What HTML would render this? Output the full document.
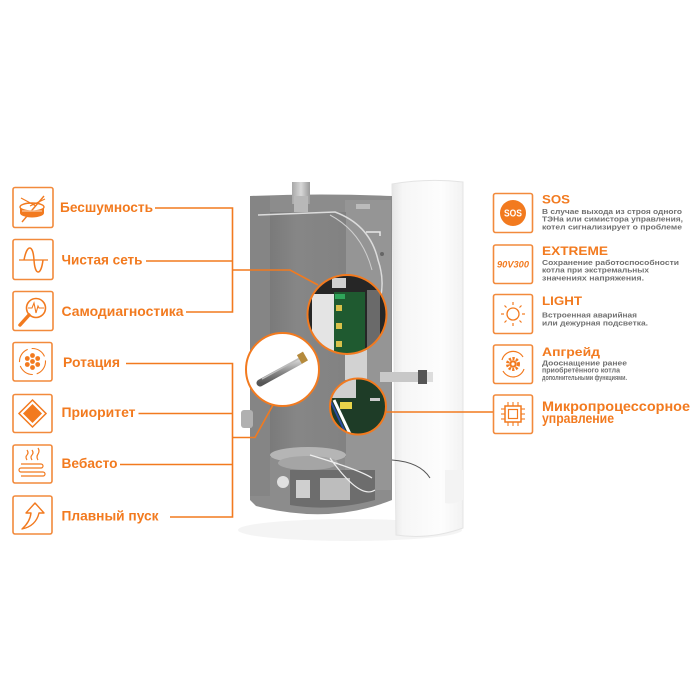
<!DOCTYPE html>
<html><head><meta charset="utf-8"><style>
html,body{margin:0;padding:0;background:#fff;}
svg{display:block;}
.lt{font-family:"Liberation Sans","DejaVu Sans",sans-serif;font-weight:bold;fill:#f27a1f;}
.ds{font-family:"Liberation Sans","DejaVu Sans",sans-serif;font-weight:bold;fill:#707070;}
</style></head><body>
<svg width="700" height="700" viewBox="0 0 700 700" xmlns="http://www.w3.org/2000/svg">
<defs>
<linearGradient id="door" x1="0" x2="1" y1="0" y2="0">
<stop offset="0" stop-color="#e6e6e6"/><stop offset="0.15" stop-color="#f6f6f6"/><stop offset="0.7" stop-color="#fdfdfd"/><stop offset="1" stop-color="#f2f2f2"/>
</linearGradient>
<linearGradient id="tank" x1="0" x2="1" y1="0" y2="0">
<stop offset="0" stop-color="#7a7a7a"/><stop offset="0.35" stop-color="#868686"/><stop offset="1" stop-color="#828282"/>
</linearGradient>
<linearGradient id="pipe" x1="0" x2="1">
<stop offset="0" stop-color="#a8a8a8"/><stop offset="0.5" stop-color="#d8d8d8"/><stop offset="1" stop-color="#9a9a9a"/>
</linearGradient>
<linearGradient id="rod" x1="0" x2="0" y1="0" y2="1">
<stop offset="0" stop-color="#d0d0d0"/><stop offset="0.5" stop-color="#8a8a8a"/><stop offset="1" stop-color="#555"/>
</linearGradient>
<clipPath id="c1"><circle cx="347" cy="314.5" r="39.5"/></clipPath>
<clipPath id="c2"><circle cx="282.5" cy="369.5" r="36.5"/></clipPath>
<clipPath id="c3"><circle cx="358" cy="406.5" r="28"/></clipPath>
</defs>

<!-- shadow -->
<ellipse cx="350" cy="530" rx="112" ry="11" fill="#f4f4f4"/>

<!-- door -->
<path d="M392,184 Q428,178 463,182 L463,528 Q430,540 396,535 Z" fill="url(#door)" stroke="#e4e4e4" stroke-width="1"/>
<path d="M445,470 L463,470 L463,500 Q452,505 445,503 Z" fill="#f3f3f3"/>

<!-- back panel -->
<path d="M250,196 Q320,193 392,196 L392,500 Q330,525 256,506 L250,500 Z" fill="#8c8c8c"/>
<rect x="250" y="196" width="20" height="300" fill="#858585"/>
<rect x="345" y="200" width="46" height="290" fill="#959595"/>
<!-- tank -->
<rect x="270" y="212" width="76" height="245" fill="url(#tank)"/>
<ellipse cx="308" cy="455" rx="38" ry="8" fill="#b5b5b5"/>
<ellipse cx="308" cy="463" rx="30" ry="7" fill="#a5a5a5"/>
<!-- bottom dark block -->
<path d="M290,470 L375,470 L375,500 Q330,512 290,505 Z" fill="#6d6d6d"/>
<rect x="320" y="478" width="30" height="22" fill="#bdbdbd"/>
<rect x="296" y="480" width="14" height="18" fill="#cfcfcf"/>
<circle cx="283" cy="482" r="6" fill="#e0e0e0"/>
<!-- left pipe -->
<rect x="241" y="410" width="12" height="18" rx="3" fill="#b0b0b0"/>
<!-- top pipe -->
<rect x="292" y="182" width="18" height="22" fill="url(#pipe)"/>
<rect x="294" y="196" width="14" height="16" fill="#b8b8b8"/>
<!-- wires -->
<path d="M258,215 L335,212 Q370,225 378,260 Q385,280 380,300" fill="none" stroke="#dcdcdc" stroke-width="1.5"/>
<path d="M330,215 Q362,232 372,270" fill="none" stroke="#cfcfcf" stroke-width="1"/>
<rect x="356" y="204" width="14" height="5" fill="#bbb"/>
<path d="M366,232 L380,232 L380,236" fill="none" stroke="#e8e8e8" stroke-width="1.5"/>
<circle cx="382" cy="254" r="2" fill="#666"/>
<!-- ribbon cable -->
<path d="M380,372 L418,372 L418,382 L380,382 Z" fill="#c8c8c8"/>
<rect x="418" y="370" width="9" height="14" fill="#555"/>
<rect x="427" y="372" width="6" height="10" fill="#ddd"/>
<path d="M392,460 Q420,462 430,478" fill="none" stroke="#555" stroke-width="1"/>
<path d="M310,455 Q360,470 372,478 M330,458 Q360,500 375,490" fill="none" stroke="#eee" stroke-width="1.2"/>
<rect x="345" y="350" width="22" height="30" fill="#d2d2d2"/>

<!-- circle 1 PCB -->
<g clip-path="url(#c1)">
<rect x="300" y="270" width="95" height="90" fill="#262626"/>
<rect x="312" y="294" width="22" height="60" fill="#e4e4e4"/>
<rect x="334" y="292" width="31" height="62" fill="#1f5a30"/>
<rect x="335" y="294" width="10" height="5" fill="#2fa55a"/>
<rect x="336" y="305" width="6" height="6" fill="#d9c14a"/>
<rect x="336" y="323" width="6" height="6" fill="#d9c14a"/>
<rect x="336" y="341" width="6" height="6" fill="#d9c14a"/>
<rect x="367" y="290" width="13" height="60" fill="#6a6a6a"/>
<rect x="332" y="278" width="14" height="10" fill="#cfcfcf"/>
</g>
<circle cx="347" cy="314.5" r="39.5" fill="none" stroke="#f27a1f" stroke-width="2"/>

<!-- circle 2 heating element -->
<circle cx="282.5" cy="369.5" r="36.5" fill="#fff"/>
<g clip-path="url(#c2)">
<line x1="260" y1="383" x2="300" y2="361" stroke="url(#rod)" stroke-width="7" stroke-linecap="round"/>
<line x1="262" y1="379" x2="300" y2="358" stroke="#bdbdbd" stroke-width="1.5"/>
<rect x="299" y="353" width="7" height="10" fill="#b58a3c" transform="rotate(-30 302 358)"/>
</g>
<circle cx="282.5" cy="369.5" r="36.5" fill="none" stroke="#f27a1f" stroke-width="2"/>

<!-- circle 3 -->
<g clip-path="url(#c3)">
<rect x="328" y="376" width="62" height="62" fill="#1e3c27"/>
<rect x="328" y="376" width="28" height="22" fill="#cfcfcf"/>
<line x1="334" y1="400" x2="350" y2="434" stroke="#ffffff" stroke-width="3"/>
<line x1="331" y1="402" x2="347" y2="436" stroke="#2a4aa0" stroke-width="2"/>
<rect x="340" y="402" width="12" height="7" fill="#e8d44a"/>
<rect x="370" y="398" width="10" height="3" fill="#ccc"/>
</g>
<circle cx="358" cy="406.5" r="28" fill="none" stroke="#f27a1f" stroke-width="2"/>

<!-- connectors -->
<g fill="none" stroke="#f27a1f" stroke-width="1.6">
<path d="M155,208 L232.5,208 L232.5,312 L186,312"/>
<path d="M146,261 L232.5,261"/>
<path d="M232.5,270 L290,270 L318,285"/>
<path d="M126,363.5 L232.5,363.5 L232.5,517 L170,517"/>
<path d="M138.5,413.5 L232.5,413.5"/>
<path d="M120,464.5 L232.5,464.5"/>
<path d="M232.5,437.5 L255,437.5 L273,405"/>
<path d="M386,412 L494,412"/>
</g>

<!-- left boxes -->
<g fill="none" stroke="#f28a3c" stroke-width="1.6">
<rect x="13" y="187.5" width="40" height="40" rx="2"/>
<rect x="13" y="239.5" width="40" height="40" rx="2"/>
<rect x="13" y="291.5" width="40" height="39" rx="2"/>
<rect x="13" y="342.5" width="39" height="38.5" rx="2"/>
<rect x="13" y="394.5" width="39" height="38" rx="2"/>
<rect x="13" y="445" width="39" height="38" rx="2"/>
<rect x="13" y="496" width="39" height="38" rx="2"/>
</g>

<!-- icon: drum -->
<g>
<path d="M20,207 L20,213 A12,4.5 0 0 0 44,213 L44,207 Z" fill="#f27a1f"/>
<ellipse cx="32" cy="207" rx="12" ry="4" fill="#fff" stroke="#f27a1f" stroke-width="1.4"/>
<line x1="21" y1="198" x2="36" y2="206" stroke="#f27a1f" stroke-width="1.2"/>
<line x1="45" y1="199" x2="30" y2="206" stroke="#f27a1f" stroke-width="1.2"/>
<line x1="44" y1="196" x2="22" y2="222" stroke="#f27a1f" stroke-width="1.4"/>
<line x1="22" y1="211" x2="42" y2="211" stroke="#fff" stroke-width="0.8"/>
</g>
<!-- icon: sine -->
<line x1="19" y1="260" x2="48" y2="260" stroke="#f27a1f" stroke-width="1.3"/>
<path d="M24,260 C27,244 33,244 34,260 C35,276 41,276 43,260" fill="none" stroke="#f27a1f" stroke-width="1.5"/>
<!-- icon: magnifier -->
<circle cx="36" cy="308" r="9.5" fill="none" stroke="#f27a1f" stroke-width="1.6"/>
<path d="M28,308 L32,308 L34,303 L36,313 L38,306 L39,308 L44,308" fill="none" stroke="#f27a1f" stroke-width="1.1"/>
<line x1="29" y1="315" x2="20" y2="325" stroke="#f27a1f" stroke-width="3.5" stroke-linecap="round"/>
<!-- icon: rotation -->
<circle cx="32.5" cy="361.5" r="13" fill="none" stroke="#f27a1f" stroke-width="1.1" stroke-dasharray="16 4"/>
<g fill="#f27a1f">
<circle cx="32.5" cy="355.5" r="2.4"/><circle cx="37.7" cy="358.5" r="2.4"/><circle cx="37.7" cy="364.5" r="2.4"/>
<circle cx="32.5" cy="367.5" r="2.4"/><circle cx="27.3" cy="364.5" r="2.4"/><circle cx="27.3" cy="358.5" r="2.4"/>
<circle cx="32.5" cy="361.5" r="2.4"/>
</g>
<!-- icon: priority -->
<path d="M32.5,400 L46,413.5 L32.5,427 L19,413.5 Z" fill="none" stroke="#f27a1f" stroke-width="1.5"/>
<path d="M32.5,404 L42,413.5 L32.5,423 L23,413.5 Z" fill="#f27a1f"/>
<!-- icon: vebasto -->
<g fill="none" stroke="#f27a1f" stroke-width="1.2">
<path d="M27,460 q-2,-3 0,-5 q2,-2 0,-5"/>
<path d="M32,460 q-2,-3 0,-5 q2,-2 0,-5"/>
<path d="M38,460 q-2,-3 0,-6 q2,-3 0,-6"/>
<path d="M21,464 L41,464 A2,2 0 0 1 41,468 L21,468 A2,2 0 0 0 21,472 L43,472 A2,2 0 0 1 43,476 L21,476"/>
</g>
<!-- icon: smooth start -->
<path d="M22,529 Q30,522 31,513 L26,513 L35,503 L44,513 L39,513 Q36,526 22,529 Z" fill="none" stroke="#f27a1f" stroke-width="1.4" stroke-linejoin="round"/>

<!-- left text -->
<text class="lt" x="60" y="212" font-size="13.5" textLength="93" lengthAdjust="spacingAndGlyphs">Бесшумность</text>
<text class="lt" x="61.5" y="264.5" font-size="13.5" textLength="81" lengthAdjust="spacingAndGlyphs">Чистая сеть</text>
<text class="lt" x="61.5" y="316" font-size="13.5" textLength="122" lengthAdjust="spacingAndGlyphs">Самодиагностика</text>
<text class="lt" x="63" y="367" font-size="13.5" textLength="57" lengthAdjust="spacingAndGlyphs">Ротация</text>
<text class="lt" x="61.5" y="417" font-size="13.5" textLength="74" lengthAdjust="spacingAndGlyphs">Приоритет</text>
<text class="lt" x="61.5" y="468" font-size="13.5" textLength="56" lengthAdjust="spacingAndGlyphs">Вебасто</text>
<text class="lt" x="61.5" y="520.5" font-size="13.5" textLength="97" lengthAdjust="spacingAndGlyphs">Плавный пуск</text>

<!-- right boxes -->
<g fill="none" stroke="#f28a3c" stroke-width="1.6">
<rect x="493.5" y="193.5" width="39" height="39" rx="2"/>
<rect x="493.5" y="245" width="39" height="38.5" rx="2"/>
<rect x="493.5" y="294.5" width="39" height="39" rx="2"/>
<rect x="493.5" y="345" width="39" height="38.5" rx="2"/>
<rect x="493.5" y="395" width="39" height="38.5" rx="2"/>
</g>
<!-- SOS icon -->
<circle cx="513" cy="213" r="13" fill="#f27a1f"/>
<text x="513" y="216.5" text-anchor="middle" font-family="Liberation Sans,sans-serif" font-weight="bold" font-size="10" fill="#fff" textLength="18" lengthAdjust="spacingAndGlyphs">SOS</text>
<!-- 90V300 -->
<text x="513" y="267.5" text-anchor="middle" font-family="Liberation Sans,sans-serif" font-weight="bold" font-style="italic" font-size="9" fill="#f27a1f" textLength="32" lengthAdjust="spacingAndGlyphs">90V300</text>
<!-- sun -->
<circle cx="513" cy="314" r="6" fill="none" stroke="#f27a1f" stroke-width="1.3"/>
<g stroke="#f27a1f" stroke-width="1.2">
<line x1="513" y1="302" x2="513" y2="305"/><line x1="513" y1="323" x2="513" y2="326"/>
<line x1="501" y1="314" x2="504" y2="314"/><line x1="522" y1="314" x2="525" y2="314"/>
<line x1="504.5" y1="305.5" x2="506.5" y2="307.5"/><line x1="519.5" y1="320.5" x2="521.5" y2="322.5"/>
<line x1="521.5" y1="305.5" x2="519.5" y2="307.5"/><line x1="506.5" y1="320.5" x2="504.5" y2="322.5"/>
</g>
<!-- gear upgrade -->
<g fill="none" stroke="#f27a1f" stroke-width="1.2">
<path d="M502,360 A11.5,11.5 0 0 1 523,357"/>
<path d="M524,369 A11.5,11.5 0 0 1 503,371"/>
</g>
<circle cx="513" cy="364" r="5.5" fill="none" stroke="#f27a1f" stroke-width="3" stroke-dasharray="2.2 1.4"/>
<circle cx="513" cy="364" r="3.8" fill="#f27a1f"/>
<circle cx="513" cy="364" r="1.6" fill="#fff"/>
<!-- chip -->
<rect x="505" y="406" width="16" height="16" fill="none" stroke="#f27a1f" stroke-width="1.5"/>
<rect x="508.5" y="409.5" width="9" height="9" fill="none" stroke="#f27a1f" stroke-width="1.2"/>
<g stroke="#f27a1f" stroke-width="1.1">
<line x1="508" y1="402" x2="508" y2="406"/><line x1="513" y1="402" x2="513" y2="406"/><line x1="518" y1="402" x2="518" y2="406"/>
<line x1="508" y1="422" x2="508" y2="426"/><line x1="513" y1="422" x2="513" y2="426"/><line x1="518" y1="422" x2="518" y2="426"/>
<line x1="501" y1="409" x2="505" y2="409"/><line x1="501" y1="414" x2="505" y2="414"/><line x1="501" y1="419" x2="505" y2="419"/>
<line x1="521" y1="409" x2="525" y2="409"/><line x1="521" y1="414" x2="525" y2="414"/><line x1="521" y1="419" x2="525" y2="419"/>
</g>

<!-- right text -->
<text class="lt" x="542" y="203.5" font-size="12" textLength="28" lengthAdjust="spacingAndGlyphs">SOS</text>
<text class="ds" x="542" y="214" font-size="7.6" textLength="140" lengthAdjust="spacingAndGlyphs">В случае выхода из строя одного</text>
<text class="ds" x="542" y="221.7" font-size="7.6" textLength="141" lengthAdjust="spacingAndGlyphs">ТЭНа или симистора управления,</text>
<text class="ds" x="542" y="229.3" font-size="7.6" textLength="140" lengthAdjust="spacingAndGlyphs">котел сигнализирует о проблеме</text>

<text class="lt" x="542" y="255" font-size="12" textLength="66" lengthAdjust="spacingAndGlyphs">EXTREME</text>
<text class="ds" x="542" y="265" font-size="7.6" textLength="137" lengthAdjust="spacingAndGlyphs">Сохранение работоспособности</text>
<text class="ds" x="542" y="272.7" font-size="7.6" textLength="107" lengthAdjust="spacingAndGlyphs">котла при экстремальных</text>
<text class="ds" x="542" y="280.3" font-size="7.6" textLength="102" lengthAdjust="spacingAndGlyphs">значениях напряжения.</text>

<text class="lt" x="542" y="305" font-size="12" textLength="40" lengthAdjust="spacingAndGlyphs">LIGHT</text>
<text class="ds" x="542" y="317.7" font-size="7.6" textLength="95" lengthAdjust="spacingAndGlyphs">Встроенная аварийная</text>
<text class="ds" x="542" y="325.7" font-size="7.6" textLength="106" lengthAdjust="spacingAndGlyphs">или дежурная подсветка.</text>

<text class="lt" x="542" y="356" font-size="12" textLength="58" lengthAdjust="spacingAndGlyphs">Апгрейд</text>
<text class="ds" x="542" y="365.3" font-size="7" textLength="85" lengthAdjust="spacingAndGlyphs">Дооснащение ранее</text>
<text class="ds" x="542" y="372.5" font-size="7" textLength="78" lengthAdjust="spacingAndGlyphs">приобретённого котла</text>
<text class="ds" x="542" y="380" font-size="7" textLength="85" lengthAdjust="spacingAndGlyphs">дополнительными функциями.</text>

<text class="lt" x="542" y="411" font-size="13.5" textLength="148" lengthAdjust="spacingAndGlyphs">Микропроцессорное</text>
<text class="lt" x="542" y="423" font-size="13.5" textLength="72" lengthAdjust="spacingAndGlyphs">управление</text>
</svg>
</body></html>
